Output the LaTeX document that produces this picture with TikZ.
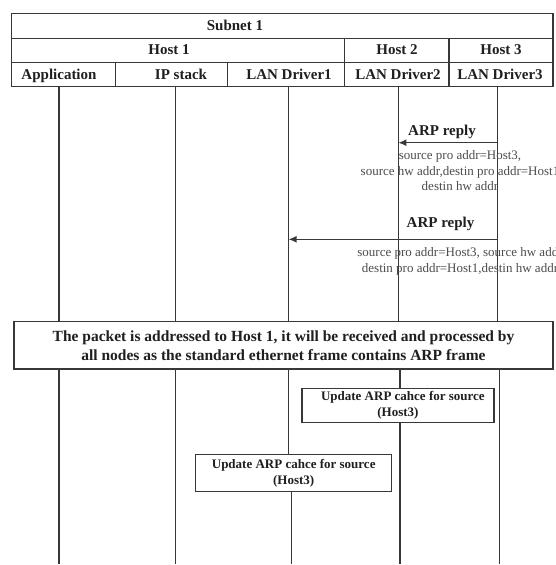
\documentclass[tikz,border=0pt]{standalone}
\usepackage{fontspec}
\setmainfont{Liberation Serif}
\usetikzlibrary{arrows.meta}
\definecolor{linec}{gray}{0.22}
\definecolor{textc}{gray}{0.12}
\definecolor{smallc}{gray}{0.30}
\begin{document}
\begin{tikzpicture}[x=1pt,y=-1pt,
  tbl/.style={draw=linec,line width=1.5pt},
  hdr/.style={anchor=base,inner sep=0pt,text=textc,font=\fontsize{15}{18}\selectfont\bfseries},
  life/.style={draw=linec,line width=1.5pt},
  msg/.style={draw=linec,line width=1.5pt,-{Latex[length=8pt,width=7pt]}},
  msglabel/.style={anchor=base,inner sep=0pt,text=textc,font=\fontsize{15}{18}\selectfont\bfseries},
  small/.style={anchor=base,inner sep=0pt,align=center,text=smallc},
  bigbox/.style={draw=linec,line width=1.5pt,fill=white,inner sep=0pt,align=center,text=textc,
    font=\fontsize{15.5}{19}\selectfont\bfseries},
  updbox/.style={draw=linec,line width=1.5pt,fill=white,inner sep=0pt,align=center,text=textc,
    font=\fontsize{13}{15.7}\selectfont\bfseries}]
\useasboundingbox (0,0) rectangle (556,565);
\clip (0,0) rectangle (556,565);
% header table
\draw[tbl] (11.7,13.3) rectangle (553,86.7);
\draw[tbl] (11.7,38.3) -- (553,38.3);
\draw[tbl] (11.7,62.3) -- (553,62.3);
\draw[tbl] (344.3,38.3) -- (344.3,86.7);
\draw[tbl] (449,38.3) -- (449,86.7);
\draw[tbl] (115.7,62.3) -- (115.7,86.7);
\draw[tbl] (227.7,62.3) -- (227.7,86.7);
\node[hdr] (subnet) at (235,30) {Subnet 1};
\node[hdr] (host1) at (169,54.5) {Host 1};
\node[hdr] (host2) at (397,54.5) {Host 2};
\node[hdr] (host3) at (501,54.5) {Host 3};
\node[hdr] (app) at (59,79) {Application};
\node[hdr] (ip) at (181,79) {IP stack};
\node[hdr] (lan1) at (289,79) {LAN Driver1};
\node[hdr] (lan2) at (398,79) {LAN Driver2};
\node[hdr] (lan3) at (500,79) {LAN Driver3};
% lifeline ends
\coordinate (lt1) at (59,86.7);
\coordinate (lt2) at (175.5,86.7);
\coordinate (lt3) at (288.5,86.7);
\coordinate (lt4) at (398.3,86.7);
\coordinate (lt5) at (497.7,86.7);
\coordinate (lb1) at (59,564);
\coordinate (lb2) at (175.5,564);
\coordinate (lb3) at (291.5,564);
\coordinate (lb4) at (400,564);
\coordinate (lb5) at (499.5,564);
% boxes
\node[bigbox,minimum width=539pt,minimum height=47.3pt] (big) at (283.5,345.3)
  {The packet is addressed to Host 1, it will be received and processed by\\
   all nodes as the standard ethernet frame contains ARP frame};
\node[updbox,minimum width=192.3pt,minimum height=34pt] (upd1) at (397.9,405.3)
  {\hspace*{10pt}Update ARP cahce for source\\(Host3)};
\node[updbox,minimum width=196pt,minimum height=37.4pt] (upd2) at (293.7,473)
  {Update ARP cahce for source\\(Host3)};
% lifelines
\draw[life] (lt1) -- (lt1 |- big.north);
\draw[life] (lt2) -- (lt2 |- big.north);
\draw[life] (lt3) -- (lt3 |- big.north);
\draw[life] (lt4) -- (lt4 |- big.north);
\draw[life] (lt5) -- (lt5 |- big.north);
\draw[life] (lb1 |- big.south) -- (lb1);
\draw[life] (lb2 |- big.south) -- (lb2);
\draw[life] (lt3 |- big.south) -- (lt3 |- upd2.north);
\draw[life] (lb3 |- upd2.south) -- (lb3);
\draw[life] (lb4 |- big.south) -- (lb4 |- upd1.north);
\draw[life] (lb4 |- upd1.south) -- (lb4);
\draw[life] (lb5 |- big.south) -- (lb5);
% messages
\coordinate (m1) at (0,142.7);
\coordinate (m2) at (0,239.3);
\draw[msg] (lt5 |- m1) -- (lt4 |- m1);
\draw[msg] (lt5 |- m2) -- (lt3 |- m2);
\node[msglabel] (lab1) at (442,135) {ARP reply};
\node[msglabel] (lab2) at (440.5,227.3) {ARP reply};
\node[small,font=\fontsize{13}{15.7}\selectfont] (info1) at (460,190.7)
  {source pro addr=Host3,\\source hw addr,destin pro addr=Host1\\destin hw addr};
\node[small,font=\fontsize{13}{16}\selectfont] (info2) at (460,272.7)
  {source pro addr=Host3, source hw addr\\destin pro addr=Host1,destin hw addr};
\end{tikzpicture}
\end{document}
